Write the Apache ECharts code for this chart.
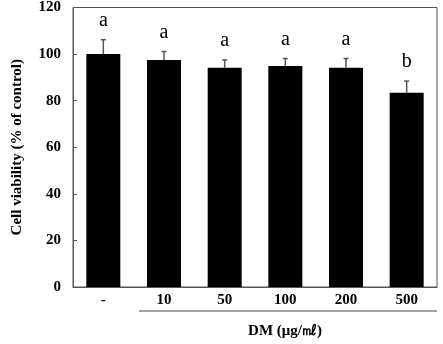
<!DOCTYPE html>
<html><head><meta charset="utf-8">
<script src="https://cdn.jsdelivr.net/npm/echarts@6/dist/echarts.min.js"></script>
<style>html,body{margin:0;padding:0;background:#fff}#c{width:443px;height:344px}</style>
</head><body><div id="c"></div>
<script>
const categories = ['-', '10', '50', '100', '200', '500'];
const means = [100, 97.5, 94.1, 94.9, 94.1, 83.4];
const errors = [6.2, 3.6, 3.4, 3.2, 4.0, 5.0];
const letters = ['a', 'a', 'a', 'a', 'a', 'b'];
const yTicks = [0, 20, 40, 60, 80, 100, 120];

const chart = echarts.init(document.getElementById('c'));
const serif = '"Liberation Serif","Times New Roman",serif';
chart.setOption({
  animation: false,
  grid: {left: 73, right: 6, top: 7, bottom: 56, show: true, borderColor: '#555', borderWidth: 1},
  xAxis: {
    type: 'category', data: categories,
    axisLine: {lineStyle: {color: '#555'}}, axisTick: {show: false},
    axisLabel: {color: '#000', fontFamily: serif, fontWeight: 'bold', fontSize: 15, margin: 6},
    name: 'DM (μg/㎖)', nameLocation: 'middle', nameGap: 37,
    nameTextStyle: {color: '#000', fontFamily: serif, fontWeight: 'bold', fontSize: 15, padding: [0,0,0,60]}
  },
  yAxis: {
    type: 'value', min: yTicks[0], max: yTicks[yTicks.length-1], interval: 20,
    splitLine: {show: false},
    axisLine: {show: true, lineStyle: {color: '#555'}},
    axisTick: {show: true, inside: true, length: 4, lineStyle: {color: '#555'}},
    axisLabel: {color: '#000', fontFamily: serif, fontWeight: 'bold', fontSize: 15, margin: 12},
    name: 'Cell viability (% of control)', nameLocation: 'middle', nameGap: 48,
    nameTextStyle: {color: '#000', fontFamily: serif, fontWeight: 'bold', fontSize: 15}
  },
  graphic: [{type: 'line', shape: {x1: 139, y1: 311, x2: 437, y2: 311}, style: {stroke: '#444', lineWidth: 1}}],
  series: [
    {type: 'bar', data: means, barWidth: 34, itemStyle: {color: '#000'}},
    {
      type: 'custom',
      data: means.map((m, i) => [i, m, errors[i]]),
      renderItem: function (params, api) {
        const i = api.value(0), m = api.value(1), e = api.value(2);
        const base = api.coord([i, m]);
        const top = api.coord([i, m + e]);
        return {type: 'group', children: [
          {type: 'line', shape: {x1: base[0], y1: base[1], x2: top[0], y2: top[1]}, style: {stroke: '#555', lineWidth: 1.5}},
          {type: 'line', shape: {x1: top[0] - 2.5, y1: top[1], x2: top[0] + 2.5, y2: top[1]}, style: {stroke: '#555', lineWidth: 1.5}},
          {type: 'text', x: top[0], y: top[1] - 9, style: {text: letters[i], fill: '#000', font: '20px ' + serif, textAlign: 'center', textVerticalAlign: 'bottom'}}
        ]};
      },
      z: 3
    }
  ]
});
</script></body></html>
